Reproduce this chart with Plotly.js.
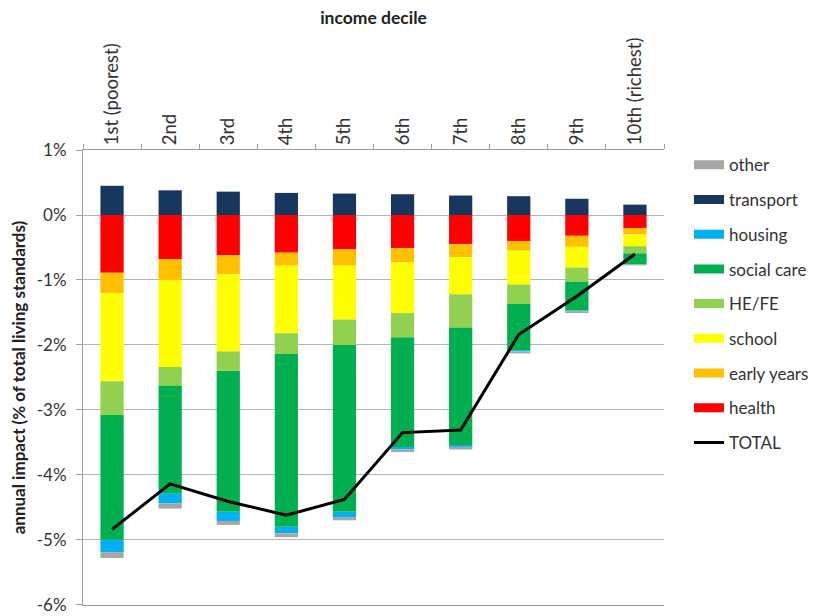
<!DOCTYPE html>
<html>
<head>
<meta charset="utf-8">
<script src="https://cdn.plot.ly/plotly-3.0.1.min.js"></script>
<style>body{margin:0;padding:0;background:#fff}#chart{width:825px;height:616px}</style>
</head>
<body>
<div id="chart"></div>
<script>
const deciles = ["1st (poorest)","2nd","3rd","4th","5th","6th","7th","8th","9th","10th (richest)"];
const health     = [-0.89,-0.68,-0.62,-0.58,-0.53,-0.51,-0.45,-0.40,-0.32,-0.20];
const earlyYears = [-0.31,-0.33,-0.29,-0.20,-0.25,-0.22,-0.20,-0.15,-0.17,-0.10];
const school     = [-1.36,-1.33,-1.19,-1.04,-0.83,-0.78,-0.57,-0.52,-0.32,-0.18];
const heFe       = [-0.52,-0.29,-0.30,-0.32,-0.39,-0.37,-0.51,-0.30,-0.22,-0.11];
const socialCare = [-1.92,-1.66,-2.17,-2.66,-2.57,-1.69,-1.81,-0.71,-0.44,-0.17];
const housing    = [-0.19,-0.15,-0.14,-0.10,-0.08,-0.04,-0.03,-0.02,-0.01,-0.005];
const other      = [-0.09,-0.08,-0.06,-0.06,-0.05,-0.04,-0.04,-0.03,-0.03,-0.01];
const transport  = [0.45,0.38,0.36,0.34,0.33,0.32,0.30,0.29,0.25,0.16];
const total      = [-4.84,-4.14,-4.41,-4.62,-4.38,-3.35,-3.31,-1.84,-1.25,-0.60];
const yTickVals  = [1,0,-1,-2,-3,-4,-5,-6];
const yTickText  = ["1%","0%","-1%","-2%","-3%","-4%","-5%","-6%"];

const font = "Lato, 'Liberation Sans', sans-serif";
const txt = '#333';
const series = [
  // name, values, colour, legend rank
  ['health', health, '#FF0000', 8],
  ['early years', earlyYears, '#FFC000', 7],
  ['school', school, '#FFFF00', 6],
  ['HE/FE', heFe, '#92D050', 5],
  ['social care', socialCare, '#00B050', 4],
  ['housing', housing, '#00B0F0', 3],
  ['other', other, '#A6A6A6', 1],
  ['transport', transport, '#17375E', 2]
];
const traces = [];
series.forEach(([name, y, color, rank]) => {
  traces.push({type:'bar', name:name, x:deciles, y:y, marker:{color:color}, showlegend:false, legendgroup:name, hoverinfo:'skip'});
});
// legend entries drawn as wide swatches
series.forEach(([name, y, color, rank]) => {
  traces.push({type:'scatter', mode:'lines', name:name, x:[null], y:[null], line:{color:color, width:9}, legendrank:rank, legendgroup:name, hoverinfo:'skip'});
});
traces.push({type:'scatter', mode:'lines', name:'TOTAL', x:deciles, y:total, line:{color:'#000', width:3}, legendrank:9, legendgroup:'TOTAL', hoverinfo:'skip'});

const layout = {
  width:825, height:616,
  margin:{l:83, r:155, t:150, b:11},
  paper_bgcolor:'#fff', plot_bgcolor:'#fff',
  barmode:'relative', bargap:0.6,
  font:{family:font, size:17, color:txt},
  showlegend:true,
  legend:{x:1.043, y:1.006, xanchor:'left', yanchor:'top', tracegroupgap:9.6, font:{size:17, family:font, color:txt}},
  xaxis:{
    side:'top', type:'category', tickangle:-90,
    ticks:'outside', tickson:'boundaries', ticklen:5, tickcolor:'#a0a0a0',
    showline:true, mirror:true, linecolor:'#a0a0a0', linewidth:1, showgrid:false,
    tickfont:{size:18.5, family:font, color:txt},
    title:{text:'<b>income decile</b>', font:{size:17.5, family:font, color:'#222'}, standoff:8}
  },
  yaxis:{
    range:[-6.004, 1.001], tickmode:'array', tickvals:yTickVals, ticktext:yTickText,
    showline:true, linecolor:'#a0a0a0', linewidth:1,
    ticks:'outside', ticklen:6, tickcolor:'#a0a0a0', ticklabelstandoff:6,
    ticklabeloverflow:'allow',
    gridcolor:'#b5b5b5', gridwidth:1, zeroline:false,
    tickfont:{size:17, family:font, color:txt},
    title:{text:'<b>annual impact (% of total living standards)</b>', font:{size:17, family:font, color:'#222'}, standoff:6}
  }
};
Plotly.newPlot('chart', traces, layout, {displayModeBar:false, staticPlot:true});
</script>
</body>
</html>
